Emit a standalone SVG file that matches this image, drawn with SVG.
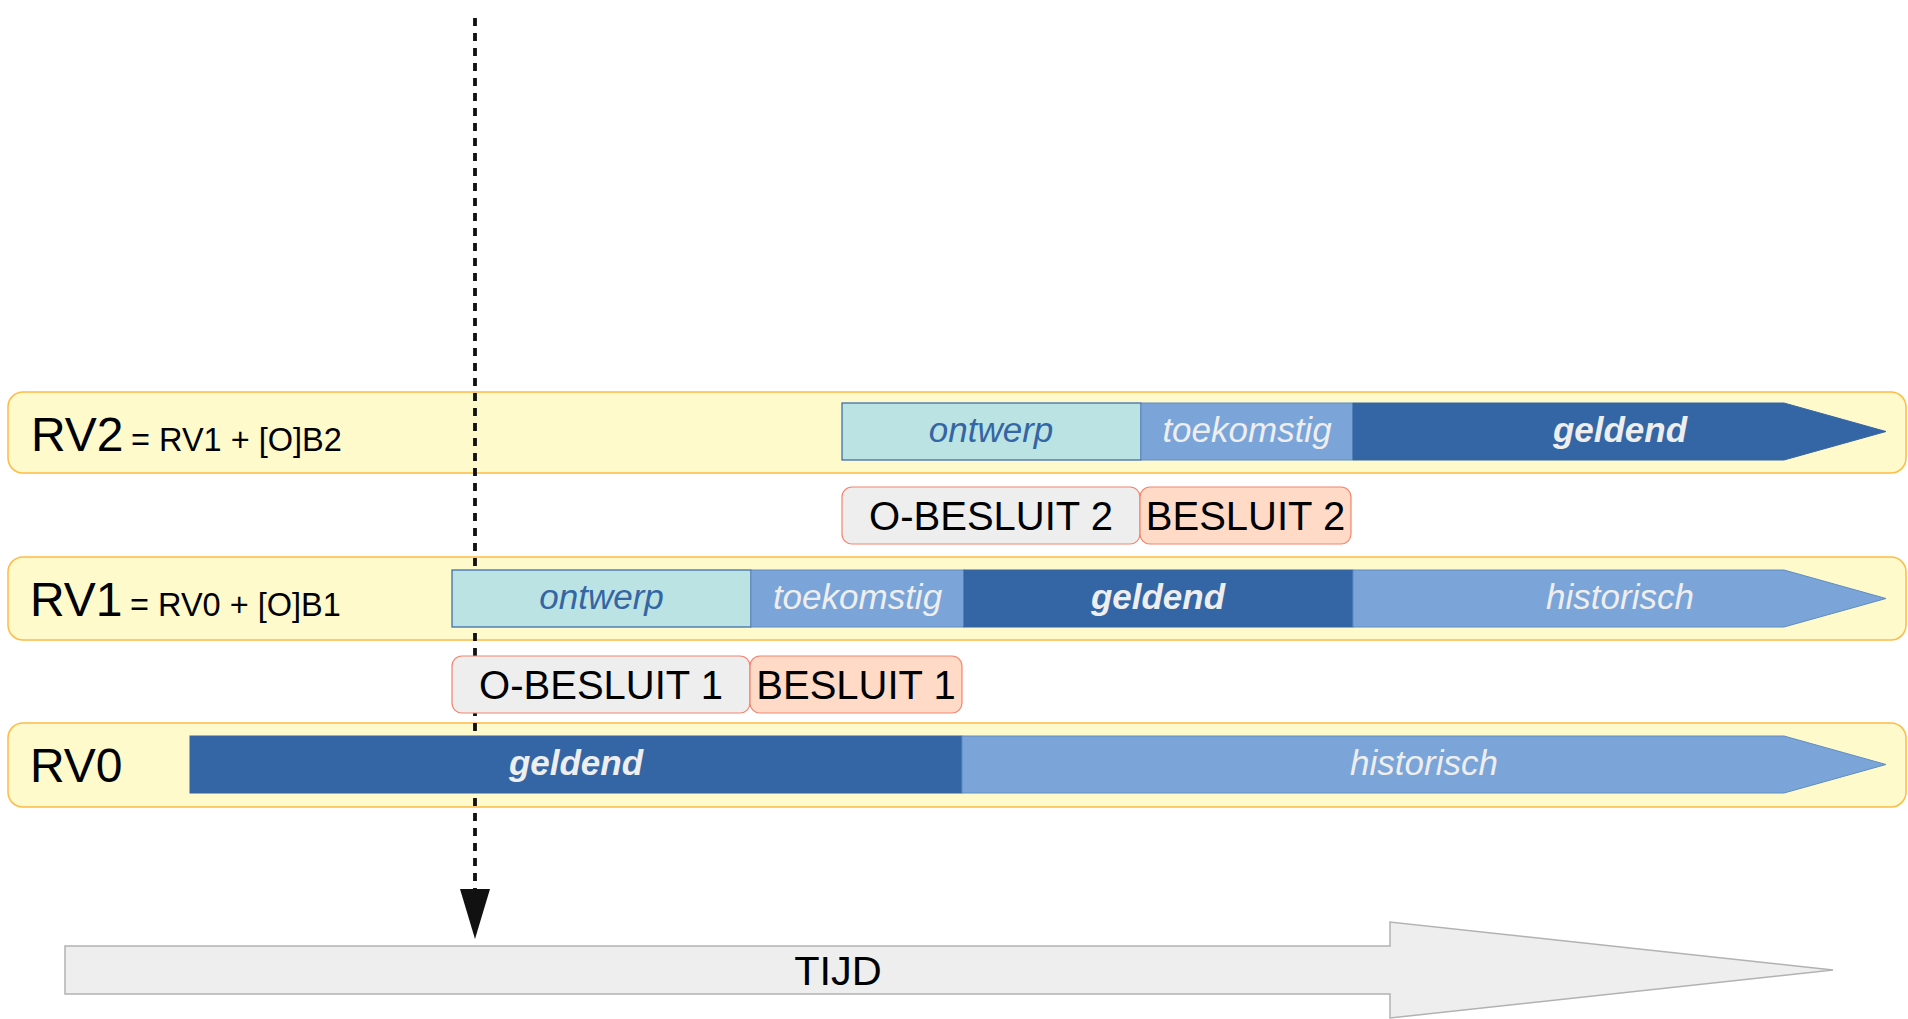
<svg xmlns="http://www.w3.org/2000/svg" width="1908" height="1019" viewBox="0 0 1908 1019">
<defs>
<style>
.band{fill:#fffacc;stroke:#ffbb44;stroke-width:1.5}
.ont{fill:#bbe3e3;stroke:#3465a4;stroke-width:1.2}
.toe{fill:#7ba5d8;stroke:#5f8cc4;stroke-width:1}
.gel{fill:#3465a4;stroke:#3465a4;stroke-width:1}
.his{fill:#7ba5d8;stroke:#5f8cc4;stroke-width:1}
.ob{fill:#eeeeee;stroke:#f4846e;stroke-width:1.2}
.b{fill:#ffdac6;stroke:#f4846e;stroke-width:1.2}
text{font-family:"Liberation Sans",Arial,sans-serif}
.big{font-size:48px;fill:#000}
.sub{font-size:32.5px;fill:#000}
.bt{font-size:35px;font-style:italic;text-anchor:middle}
.tont{fill:#3465a4}
.tw{fill:#eeeeee}
.bold{font-weight:bold}
.bs{font-size:40px;fill:#000;text-anchor:middle}
</style>
</defs>

<g id="bands">
<rect id="band-rv2" class="band" x="8" y="392" width="1898" height="81" rx="15"/>
<rect id="band-rv1" class="band" x="8" y="557" width="1898" height="83" rx="15"/>
<rect id="band-rv0" class="band" x="8" y="723" width="1898" height="84" rx="15"/>
</g>

<g id="connectors">
<line x1="475" y1="18" x2="475" y2="889" stroke="#111" stroke-width="3.8" stroke-dasharray="8 7"/>
<path d="M460 889 L490 889 L475 939 Z" fill="#111"/>
</g>

<g id="rv2">
<text class="big" x="31" y="451">RV2</text>
<text class="sub" x="131" y="451">= RV1 + [O]B2</text>
<g id="rv2-ontwerp"><rect class="ont" x="842" y="403" width="299" height="57"/><text class="bt tont" x="991" y="442">ontwerp</text></g>
<g id="rv2-toekomstig"><rect class="toe" x="1141" y="403" width="212" height="57"/><text class="bt tw" x="1247" y="442">toekomstig</text></g>
<g id="rv2-geldend"><polygon class="gel" points="1353,403 1784,403 1886,431.5 1784,460 1353,460"/><text class="bt tw bold" x="1620" y="442">geldend</text></g>
</g>

<g id="besluit2">
<g id="o-besluit-2"><rect class="ob" x="842" y="487" width="298" height="57" rx="10"/><text class="bs" x="991" y="530">O-BESLUIT 2</text></g>
<g id="besluit-2"><rect class="b" x="1140" y="487" width="211" height="57" rx="10"/><text class="bs" x="1245.5" y="530">BESLUIT 2</text></g>
</g>

<g id="rv1">
<text class="big" x="30" y="616">RV1</text>
<text class="sub" x="130" y="616">= RV0 + [O]B1</text>
<g id="rv1-ontwerp"><rect class="ont" x="452" y="570" width="299" height="57"/><text class="bt tont" x="601.5" y="609">ontwerp</text></g>
<g id="rv1-toekomstig"><rect class="toe" x="751" y="570" width="213" height="57"/><text class="bt tw" x="857.5" y="609">toekomstig</text></g>
<g id="rv1-geldend"><rect class="gel" x="964" y="570" width="389" height="57"/><text class="bt tw bold" x="1158" y="609">geldend</text></g>
<g id="rv1-historisch"><polygon class="his" points="1353,570 1784,570 1886,598.5 1784,627 1353,627"/><text class="bt tw" x="1620" y="609">historisch</text></g>
</g>

<g id="besluit1">
<g id="o-besluit-1"><rect class="ob" x="452" y="656" width="298" height="57" rx="10"/><text class="bs" x="601" y="699">O-BESLUIT 1</text></g>
<g id="besluit-1"><rect class="b" x="750" y="656" width="212" height="57" rx="10"/><text class="bs" x="856" y="699">BESLUIT 1</text></g>
</g>

<g id="rv0">
<text class="big" x="30" y="782">RV0</text>
<g id="rv0-geldend"><rect class="gel" x="190" y="736" width="772" height="57"/><text class="bt tw bold" x="576" y="775">geldend</text></g>
<g id="rv0-historisch"><polygon class="his" points="962,736 1784,736 1886,764.5 1784,793 962,793"/><text class="bt tw" x="1424" y="775">historisch</text></g>
</g>

<g id="tijd">
<polygon points="65,946 1390,946 1390,922 1833,970 1390,1018 1390,994 65,994" fill="#eeeeee" stroke="#b2b2b2" stroke-width="1.5"/>
<text x="838" y="985" font-size="41.5" text-anchor="middle" fill="#000">TIJD</text>
</g>
</svg>
